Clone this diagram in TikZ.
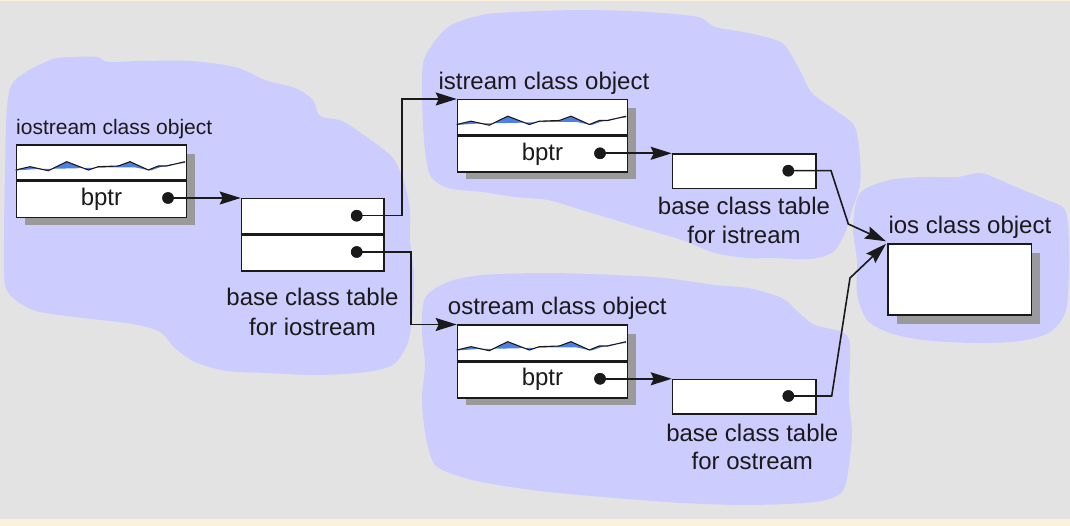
\documentclass[tikz,border=0pt]{standalone}
\usepackage{fontspec}
\setmainfont{Liberation Sans}
\usetikzlibrary{arrows.meta,calc}
\definecolor{bgc}{HTML}{E3E3E3}
\definecolor{blobc}{HTML}{CCCCFF}
\definecolor{shadc}{HTML}{9A9A9A}
\definecolor{wavec}{HTML}{4D80E6}
\definecolor{cream}{HTML}{FBF1DE}
\definecolor{inkc}{HTML}{1A1A1A}
\tikzset{
  sec/.style={draw=inkc, line width=1.5pt, fill=white, inner sep=0pt,
    anchor=north west, font=\fontsize{24}{29}\selectfont, text=inkc},
  lbl/.style={inner sep=0pt, font=\fontsize{24}{29}\selectfont, text=inkc},
  dotnode/.style={circle, fill=inkc, inner sep=0pt, minimum size=11.5pt},
  conn/.style={draw=inkc, line width=1.6pt},
  arr/.style={conn, -{Stealth[length=21pt,width=13pt,inset=3pt]}},
  divider/.style={draw=inkc, line width=2.6pt},
  blob/.style={fill=blobc},
}
\newcommand\ObjBox[2]{%
  \fill[shadc] ($(#2)+(9.5,9.5)$) rectangle ++(170,71);
  \node[sec, minimum width=170pt, minimum height=35pt] (#1w) at (#2) {};
  \node[sec, minimum width=170pt, minimum height=36pt] (#1b) at (#1w.south west) {bptr};
  \begin{scope}[shift={(#1w.north west)}]
    \fill[wavec] plot coordinates {(0,25.5) (14.3,22.2) (32.6,26.2) (51,17.2) (72.6,25.5) (82.6,22.2) (102.6,21.5) (114.3,17.2) (132.6,25.5) (142.6,21.5) (151,21.5) (169.3,17.2)}
      -- plot coordinates {(169.3,18.5) (155,19.8) (145,22.5) (135,26) (120,23) (100,22.8) (80,23.2) (60,23.8) (40,24.2) (20,24.6) (0,26)} -- cycle;
    \draw[inkc, line width=1.1pt] plot coordinates {(0,25.5) (14.3,22.2) (32.6,26.2) (51,17.2) (72.6,25.5) (82.6,22.2) (102.6,21.5) (114.3,17.2) (132.6,25.5) (142.6,21.5) (151,21.5) (169.3,17.2)};
  \end{scope}
  \draw[divider] (#1w.south west) -- (#1w.south east);
}
\begin{document}
\begin{tikzpicture}[x=1pt, y=-1pt]
\useasboundingbox (0,0) rectangle (1070,526);
% background
\fill[cream] (0,0) rectangle (1070,526);
\fill[bgc] (0,1.5) rectangle (1070,519);
% blobs
\fill[blob] plot[smooth cycle, tension=0.5] coordinates {(15,80) (50,60) (72,57) (97,57) (108,62) (140,61) (190,61) (235,67) (265,80) (295,88) (313,100) (320,116) (342,121) (368,138) (393,158) (404,182) (410,210) (410,240) (414,275) (413,310) (408,342) (394,364) (367,372) (317,375) (267,373) (227,371) (195,362) (175,348) (160,332) (133,324) (83,318) (40,312) (18,302) (5,285) (4,240) (5,173) (7,107)};
\fill[blob] plot[smooth cycle, tension=0.5] coordinates {(425,57) (448,27) (482,15) (515,12) (582,10) (648,12) (698,17) (715,27) (748,33) (782,43) (798,67) (812,93) (835,110) (855,127) (860,160) (860,185) (853,207) (845,233) (833,252) (810,259) (773,258) (748,258) (715,253) (682,240) (648,230) (615,220) (582,210) (548,200) (515,197) (482,192) (448,188) (430,175) (424,140) (422,90)};
\fill[blob] plot[smooth cycle, tension=0.5] coordinates {(425,298) (448,282) (482,275) (548,273) (615,275) (665,278) (715,285) (748,288) (782,298) (798,312) (815,325) (842,332) (850,345) (849,398) (852,432) (849,465) (842,492) (815,502) (748,505) (682,503) (615,498) (548,492) (498,485) (465,478) (435,465) (425,432) (422,398) (425,365) (422,332)};
\fill[blob] plot[smooth cycle, tension=0.5] coordinates {(860,193) (890,180) (923,177) (957,177) (980,173) (1000,180) (1023,190) (1047,200) (1066,212) (1069,260) (1066,310) (1050,332) (1020,341) (973,343) (923,340) (890,333) (867,320) (857,293) (857,260) (853,227)};

% object boxes
\ObjBox{io}{15.7,144.5}
\ObjBox{is}{456.7,99}
\ObjBox{os}{456.7,324.5}
% titles
\node[lbl, anchor=base west, font=\fontsize{21}{25}\selectfont] (iot) at (16,135) {iostream class object};
\node[lbl, anchor=base west] (ist) at (438.3,89.3) {istream class object};
\node[lbl, anchor=base west] (ost) at (447.7,315) {ostream class object};
\node[lbl, anchor=base west] (iost) at (888.3,233.3) {ios class object};

% base class table for iostream
\node[sec, minimum width=142.6pt, minimum height=35pt] (bt1) at (240.7,198) {};
\node[sec, minimum width=142.6pt, minimum height=36pt] (bt2) at (bt1.south west) {};
\draw[divider] (bt1.south west) -- (bt1.south east);
\node[lbl, anchor=base] (btl1) at (312.5,305.7) {base class table};
\node[lbl, anchor=base] (btl2) at (312.5,335) {for iostream};

% base class table for istream
\node[sec, minimum width=143.3pt, minimum height=34.4pt] (ibt) at (671.7,153.3) {};
\node[lbl, anchor=base] (ibl1) at (744,215) {base class table};
\node[lbl, anchor=base] (ibl2) at (744,243.3) {for istream};

% base class table for ostream
\node[sec, minimum width=143.3pt, minimum height=34.4pt] (obt) at (671.7,378.8) {};
\node[lbl, anchor=base] (obl1) at (752.3,441) {base class table};
\node[lbl, anchor=base] (obl2) at (752.3,469) {for ostream};

% ios object
\fill[shadc] (896.5,252.8) rectangle ++(143.7,71);
\node[sec, minimum width=143.7pt, minimum height=71pt] (ios) at (887,243.3) {};

% dots
\node[dotnode] (iod) at (168,198) {};
\node[dotnode] (bd1) at (356.7,215.7) {};
\node[dotnode] (bd2) at (356.7,252) {};
\node[dotnode] (isd) at (600,153.3) {};
\node[dotnode] (ibd) at (788.3,170.7) {};
\node[dotnode] (osd) at (600,378.8) {};
\node[dotnode] (obd) at (788.3,396) {};
\coordinate (k1) at (848.3,224);
\coordinate (k2) at (850,278);

% connectors
\draw[arr] (iod.center) -- (bt1.north west);
\draw[arr] (bd1.center) -- ++(45,0) |- (isw.north west);
\draw[arr] (bd2.center) -- ++(54,0) |- (osw.north west);
\draw[arr] (isd.center) -- (ibt.north west);
\draw[arr] (osd.center) -- (obt.north west);
\draw[arr] (ibd.center) -- ++(42.7,0) -- (k1) -- ($(ios.north west)+(-1,-2)$);
\draw[arr] (obd.center) -- ++(43.4,0) -- (k2) -- ($(ios.north west)+(-1,0.5)$);
% redraw dots on top
\foreach \d in {iod,bd1,bd2,isd,ibd,osd,obd} \fill[inkc] (\d.center) circle (5.75pt);
\end{tikzpicture}
\end{document}
